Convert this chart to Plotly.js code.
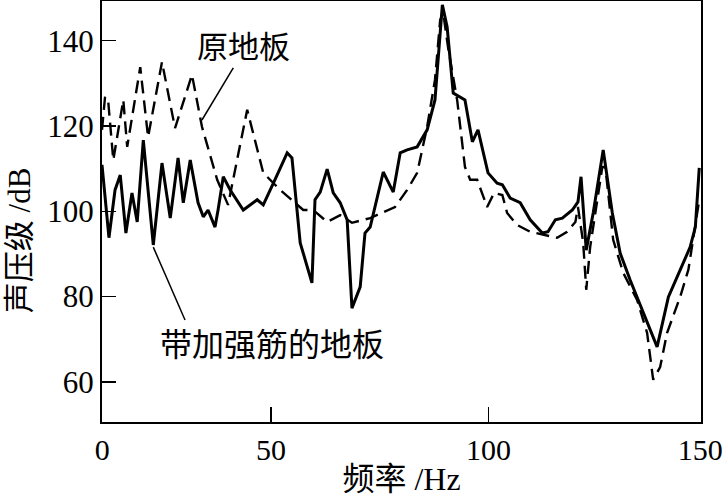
<!DOCTYPE html>
<html>
<head>
<meta charset="utf-8">
<script src="https://cdn.plot.ly/plotly-3.0.1.min.js"></script>
<style>html,body{margin:0;padding:0;background:#fff;}#chart{width:723px;height:497px;}</style>
</head>
<body>
<div id="chart"></div>
<script>
// 带加强筋的地板 (solid)
const freqRibbed = [11.1,12.7,14.1,15.3,16.6,18.0,19.2,20.6,22.9,24.9,26.8,28.6,29.8,31.4,33.2,34.4,35.5,37.1,37.8,39.0,40.6,43.6,46.8,48.2,50.9,53.7,54.8,56.7,59.4,60.1,61.3,62.9,64.3,65.9,67.5,68.6,70.5,71.6,72.8,75.8,78.1,79.7,81.3,83.6,85.9,87.7,89.4,90.5,91.9,94.6,96.3,97.6,99.9,102.0,103.2,105.0,107.3,109.6,112.4,113.7,115.4,117.0,119.3,120.6,121.3,122.5,124.1,126.4,128.5,130.3,132.6,135.6,138.8,141.4,144.1,146.4,147.6,148.5];
const splRibbed = [110.9,93.8,105.0,108.5,94.9,104.3,97.5,116.7,92.1,111.3,98.4,112.5,102.0,112.0,102.0,98.7,100.3,96.3,100.3,108.1,105.0,100.3,102.7,101.5,107.4,113.7,112.5,92.6,83.2,102.7,104.5,109.9,104.3,102.0,98.0,77.3,82.3,94.9,96.3,109.2,104.5,113.7,114.4,115.1,119.1,126.1,148.4,143.2,127.7,126.1,116.3,119.1,109.0,106.6,106.2,103.1,102.0,98.0,94.9,95.2,98.0,98.4,100.3,102.2,108.1,90.9,99.6,114.4,99.6,90.2,83.9,76.2,68.2,79.9,86.3,91.6,96.3,110.2];
// 原地板 (dashed)
const freqOriginal = [11.1,11.8,12.5,13.7,16.0,16.9,19.9,21.7,24.9,27.9,31.8,34.1,37.6,40.1,44.5,48.2,52.1,57.4,59.7,62.9,65.9,68.6,72.8,75.8,78.5,81.3,83.6,85.9,87.7,88.9,89.6,90.7,92.8,94.6,95.8,97.4,99.7,101.3,103.2,104.3,106.6,109.6,112.4,115.8,118.1,120.0,120.6,121.8,122.5,123.4,126.2,126.9,128.7,131.0,134.2,136.5,137.9,139.5,141.1,144.1,146.0,148.0,148.5];
const splOriginal = [119.1,126.8,126.1,112.0,126.1,115.1,133.8,117.4,135.0,119.5,132.0,119.8,107.4,101.5,123.8,109.0,105.0,100.3,100.3,97.5,99.1,97.3,98.4,99.8,101.0,105.0,109.0,119.8,130.8,144.9,146.5,138.5,126.1,110.4,107.4,107.4,101.0,104.3,103.8,99.6,96.8,95.2,94.5,93.8,95.2,97.5,101.0,92.6,81.6,91.6,110.4,110.4,93.3,85.6,79.2,71.5,60.5,63.5,71.5,79.9,86.3,100.3,102.7];
const xTickVals = [11.15, 50, 100, 148.75];
const xTickText = ['0', '50', '100', '150'];
const yTickVals = [60, 80, 100, 120, 140];

const serif = 'Liberation Serif, Noto Sans CJK SC, serif';

const traces = [
  {x: freqRibbed, y: splRibbed, type: 'scatter', mode: 'lines', name: '带加强筋的地板',
   line: {color: '#000', width: 3}},
  {x: freqOriginal, y: splOriginal, type: 'scatter', mode: 'lines', name: '原地板',
   line: {color: '#000', width: 2.4, dash: '13px,7px'}}
];

const layout = {
  width: 723, height: 497,
  margin: {l: 102, r: 22, t: 1, b: 75},
  paper_bgcolor: '#fff', plot_bgcolor: '#fff',
  showlegend: false,
  font: {family: serif, color: '#000'},
  xaxis: {
    range: [11.1, 148.9], tickvals: xTickVals, ticktext: xTickText,
    ticks: 'inside', ticklen: 15, tickwidth: 1.5, tickcolor: '#000',
    showline: true, mirror: true, linecolor: '#000', linewidth: 2,
    showgrid: false, zeroline: false, ticklabeloverflow: 'allow',
    tickfont: {family: serif, size: 30, color: '#000'},
    title: {text: '频率 /Hz', font: {family: serif, size: 32, color: '#000'}, standoff: 3}
  },
  yaxis: {
    range: [50.6, 149.3], tickvals: yTickVals,
    ticks: 'inside', ticklen: 14, tickwidth: 1.5, tickcolor: '#000',
    showline: true, mirror: true, linecolor: '#000', linewidth: 2,
    showgrid: false, zeroline: false,
    tickfont: {family: serif, size: 31, color: '#000'}
  },
  shapes: [
    {type: 'line', xref: 'x', yref: 'y', x0: 41.3, y0: 133.6, x1: 34.1, y1: 121.4, line: {color: '#000', width: 1.5}},
    {type: 'line', xref: 'x', yref: 'y', x0: 22.9, y0: 91.6, x1: 30.2, y1: 74.5, line: {color: '#000', width: 1.5}}
  ],
  annotations: [
    {x: 43.6, y: 138.3, xref: 'x', yref: 'y', text: '原地板', showarrow: false,
     font: {family: serif, size: 31, color: '#000'}},
    {x: 50.2, y: 68.7, xref: 'x', yref: 'y', text: '带加强筋的地板', showarrow: false,
     font: {family: serif, size: 32, color: '#000'}},
    {x: 0, y: 0.432, xref: 'paper', yref: 'paper', xshift: -83, text: '声压级 /dB', textangle: -90,
     showarrow: false, xanchor: 'center', yanchor: 'middle',
     font: {family: serif, size: 31, color: '#000'}}
  ]
};

Plotly.newPlot('chart', traces, layout, {displayModeBar: false, staticPlot: true});
</script>
</body>
</html>
